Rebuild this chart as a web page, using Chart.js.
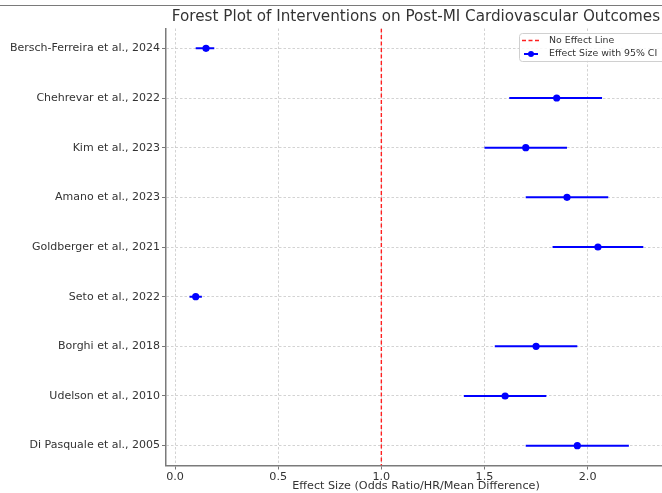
<!DOCTYPE html>
<html><head><meta charset="utf-8">
<script src="https://cdn.jsdelivr.net/npm/chart.js@4.4.0/dist/chart.umd.min.js"></script>
<style>
html,body{margin:0;padding:0;background:#fff;overflow:hidden;}
#wrap{position:relative;width:670px;height:493px;}
#topline{position:absolute;left:0;top:5px;width:662px;height:0;border-top:1.5px solid #7a7a7a;}
canvas{display:block;}
</style></head><body>
<div id="wrap"><canvas id="c" width="670" height="493" style="width:670px;height:493px"></canvas><div id="topline"></div></div>
<script>
const studies = [
  "Bersch-Ferreira et al., 2024",
  "Chehrevar et al., 2022",
  "Kim et al., 2023",
  "Amano et al., 2023",
  "Goldberger et al., 2021",
  "Seto et al., 2022",
  "Borghi et al., 2018",
  "Udelson et al., 2010",
  "Di Pasquale et al., 2005"
];
const effects = [0.15, 1.85, 1.70, 1.90, 2.05, 0.10, 1.75, 1.60, 1.95];
const ciLower = [0.10, 1.62, 1.50, 1.70, 1.83, 0.07, 1.55, 1.40, 1.70];
const ciUpper = [0.19, 2.07, 1.90, 2.10, 2.27, 0.13, 1.95, 1.80, 2.20];
const xTicks = [0.0, 0.5, 1.0, 1.5, 2.0];
const noEffect = 1.0;

const FONT = "'DejaVu Sans', sans-serif";
const BLUE = '#0000ff';

const datasets = [];
studies.forEach((s, i) => {
  datasets.push({
    label: s + ' CI',
    data: [{x: ciLower[i], y: i}, {x: ciUpper[i], y: i}],
    showLine: true, borderColor: BLUE, borderWidth: 2, pointRadius: 0, pointHoverRadius: 0
  });
});
datasets.push({
  label: 'Effect Size with 95% CI',
  data: effects.map((e, i) => ({x: e, y: i})),
  pointRadius: 3.6, pointBackgroundColor: BLUE, pointBorderWidth: 0, showLine: false
});
datasets.push({
  label: 'No Effect Line',
  data: [{x: noEffect, y: -0.4}, {x: noEffect, y: 8.4}],
  showLine: true, borderColor: '#ff2020', borderWidth: 1.4, borderDash: [4, 2.5], pointRadius: 0
});

const decor = {
  id: 'decor',
  afterDraw(chart) {
    const {ctx, chartArea: a} = chart;
    ctx.save();
    ctx.font = '15.2px ' + FONT;
    ctx.fillStyle = '#333';
    ctx.textAlign = 'center';
    ctx.textBaseline = 'middle';
    ctx.fillText('Forest Plot of Interventions on Post-MI Cardiovascular Outcomes', (a.left + a.right) / 2, 17);
    const bx = 519, by = 33, bw = 146, bh = 28;
    ctx.fillStyle = 'rgba(255,255,255,0.85)';
    ctx.strokeStyle = '#d0d0d0';
    ctx.lineWidth = 1;
    ctx.beginPath();
    ctx.roundRect(bx + 0.5, by + 0.5, bw, bh, 3);
    ctx.fill(); ctx.stroke();
    ctx.strokeStyle = '#ff2020';
    ctx.lineWidth = 1.4;
    ctx.setLineDash([4, 2.5]);
    ctx.beginPath(); ctx.moveTo(522, 40.5); ctx.lineTo(540, 40.5); ctx.stroke();
    ctx.setLineDash([]);
    ctx.strokeStyle = BLUE; ctx.lineWidth = 2;
    ctx.beginPath(); ctx.moveTo(524, 54); ctx.lineTo(538, 54); ctx.stroke();
    ctx.fillStyle = BLUE;
    ctx.beginPath(); ctx.arc(531, 54, 3, 0, Math.PI * 2); ctx.fill();
    ctx.fillStyle = '#333';
    ctx.font = '9.4px ' + FONT;
    ctx.textAlign = 'left';
    ctx.fillText('No Effect Line', 549, 40.5);
    ctx.fillText('Effect Size with 95% CI', 549, 54);
    ctx.restore();
  }
};

new Chart(document.getElementById('c'), {
  type: 'scatter',
  data: {datasets},
  plugins: [decor],
  options: {
    responsive: false,
    maintainAspectRatio: false,
    animation: false,
    devicePixelRatio: 1,
    layout: {padding: {top: 28.5, left: 0, right: 4, bottom: 0}},
    plugins: {legend: {display: false}, title: {display: false}, tooltip: {enabled: false}},
    scales: {
      x: {
        type: 'linear', min: -0.044, max: 2.38,
        afterBuildTicks: (sc) => { sc.ticks = xTicks.map(v => ({value: v})); },
        afterFit: (sc) => { sc.height = 27.5; },
        ticks: {callback: (v) => Number(v).toFixed(1), color: '#333', font: {family: FONT, size: 11.2}, padding: 1, maxRotation: 0},
        grid: {color: 'rgba(176,176,176,0.7)', lineWidth: 0.8, tickLength: 4, tickColor: '#777', tickWidth: 1},
        border: {display: true, color: '#7a7a7a', width: 1.5, dash: [2.5, 2]},
        title: {display: true, text: 'Effect Size (Odds Ratio/HR/Mean Difference)', color: '#333', font: {family: FONT, size: 11.2}, padding: {top: 0, bottom: 0}}
      },
      y: {
        type: 'linear', min: -0.4, max: 8.4, reverse: true,
        afterBuildTicks: (sc) => { sc.ticks = studies.map((s, i) => ({value: i})); },
        afterFit: (sc) => { sc.width = 166; },
        ticks: {callback: (v) => studies[v] ?? '', color: '#333', font: {family: FONT, size: 11}, padding: 2},
        grid: {color: 'rgba(176,176,176,0.7)', lineWidth: 0.8, tickLength: 4, tickColor: '#777', tickWidth: 1},
        border: {display: true, color: '#7a7a7a', width: 1.5, dash: [2.5, 2]}
      }
    }
  }
});
</script>
</body></html>
